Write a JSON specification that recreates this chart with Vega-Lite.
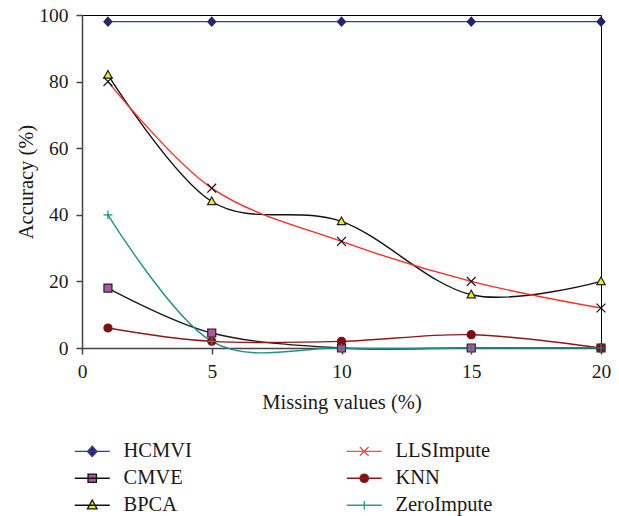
{
  "$schema": "https://vega.github.io/schema/vega-lite/v6.json",
  "width": 519,
  "height": 333,
  "autosize": "none",
  "padding": {"left": 82, "top": 15, "right": 18, "bottom": 168},
  "config": {
    "font": "Liberation Serif",
    "view": {"stroke": "#000", "strokeWidth": 1},
    "axis": {
      "labelFont": "Liberation Serif", "titleFont": "Liberation Serif",
      "labelFontSize": 19.5, "titleFontSize": 20.5, "titleFontWeight": "normal",
      "labelColor": "#1a1a1a", "titleColor": "#1a1a1a",
      "domainColor": "#444", "domainWidth": 1.5,
      "tickColor": "#444", "tickWidth": 1.5, "tickSize": 6, "grid": false,
      "labelFlush": false
    },
    "legend": {
      "labelFont": "Liberation Serif", "labelFontSize": 20.5, "labelColor": "#1a1a1a"
    }
  },
  "data": {
    "values": [
      {"series": "HCMVI", "x": 1, "y": 98}, {"series": "HCMVI", "x": 5, "y": 98}, {"series": "HCMVI", "x": 10, "y": 98}, {"series": "HCMVI", "x": 15, "y": 98}, {"series": "HCMVI", "x": 20, "y": 98},
      {"series": "CMVE", "x": 1, "y": 18}, {"series": "CMVE", "x": 5, "y": 4.5}, {"series": "CMVE", "x": 10, "y": 0}, {"series": "CMVE", "x": 15, "y": 0}, {"series": "CMVE", "x": 20, "y": 0},
      {"series": "BPCA", "x": 1, "y": 82}, {"series": "BPCA", "x": 5, "y": 44}, {"series": "BPCA", "x": 10, "y": 38}, {"series": "BPCA", "x": 15, "y": 16}, {"series": "BPCA", "x": 20, "y": 20},
      {"series": "LLSImpute", "x": 1, "y": 80}, {"series": "LLSImpute", "x": 5, "y": 48}, {"series": "LLSImpute", "x": 10, "y": 32}, {"series": "LLSImpute", "x": 15, "y": 20}, {"series": "LLSImpute", "x": 20, "y": 12},
      {"series": "KNN", "x": 1, "y": 6}, {"series": "KNN", "x": 5, "y": 2}, {"series": "KNN", "x": 10, "y": 2}, {"series": "KNN", "x": 15, "y": 4}, {"series": "KNN", "x": 20, "y": 0},
      {"series": "ZeroImpute", "x": 1, "y": 40}, {"series": "ZeroImpute", "x": 5, "y": 2}, {"series": "ZeroImpute", "x": 10, "y": 0}, {"series": "ZeroImpute", "x": 15, "y": 0}, {"series": "ZeroImpute", "x": 20, "y": 0}
    ]
  },
  "layer": [
    {
      "mark": {"type": "line", "interpolate": "cardinal", "strokeWidth": 1.4},
      "encoding": {
        "x": {"field": "x", "type": "quantitative", "scale": {"domain": [0, 20], "nice": false},
              "axis": {"values": [0, 5, 10, 15, 20], "title": "Missing values (%)", "labelPadding": 8, "titlePadding": 12}},
        "y": {"field": "y", "type": "quantitative", "scale": {"domain": [0, 100], "nice": false},
              "axis": {"values": [0, 20, 40, 60, 80, 100], "title": "Accuracy (%)", "labelPadding": 8, "titlePadding": 2}},
        "stroke": {"field": "series", "type": "nominal", "legend": null,
                   "scale": {"domain": ["HCMVI", "LLSImpute", "CMVE", "KNN", "BPCA", "ZeroImpute"],
                             "range": ["#3a3a8c", "#ff2a2a", "#1a1a1a", "#8b1a1a", "#111111", "#1f9090"]}}
      }
    },
    {
      "mark": {"type": "point", "size": 64, "strokeWidth": 1.2, "opacity": 1},
      "encoding": {
        "x": {"field": "x", "type": "quantitative"},
        "y": {"field": "y", "type": "quantitative"},
        "shape": {"field": "series", "type": "nominal", "legend": null,
                  "scale": {"domain": ["HCMVI", "LLSImpute", "CMVE", "KNN", "BPCA", "ZeroImpute"],
                            "range": ["M0,-1.1L1,0L0,1.1L-1,0Z", "M-1.1,-1.1L1.1,1.1M-1.1,1.1L1.1,-1.1", "M-1,-1L1,-1L1,1L-1,1Z", "circle", "M0,-1.1L1.05,0.8L-1.05,0.8Z", "M-1.1,0L1.1,0M0,-1.1L0,1.1"]}},
        "fill": {"field": "series", "type": "nominal", "legend": null,
                 "scale": {"domain": ["HCMVI", "LLSImpute", "CMVE", "KNN", "BPCA", "ZeroImpute"],
                           "range": ["#23236e", "#000000", "#b455a0", "#7d1010", "#f2ee1a", "#1a8a8a"]}},
        "stroke": {"field": "series", "type": "nominal", "legend": null,
                   "scale": {"domain": ["HCMVI", "LLSImpute", "CMVE", "KNN", "BPCA", "ZeroImpute"],
                             "range": ["#23236e", "#111111", "#222222", "#7d1010", "#222222", "#1a8a8a"]}}
      }
    },
    {
      "data": {"values": []},
      "mark": {"type": "point", "opacity": 1},
      "encoding": {
        "shape": {"field": "series", "type": "nominal",
                  "scale": {"domain": ["HCMVI", "LLSImpute", "CMVE", "KNN", "BPCA", "ZeroImpute"],
                            "range": ["M-2,0L2,0M0,-0.6L0.55,0L0,0.6L-0.55,0Z", "M-2,0L2,0M-0.5,-0.5L0.5,0.5M-0.5,0.5L0.5,-0.5", "M-2,0L2,0M-0.48,-0.48L0.48,-0.48L0.48,0.48L-0.48,0.48Z", "M-2,0L2,0M-0.48,0A0.48,0.48 0 1 0 0.48,0A0.48,0.48 0 1 0 -0.48,0Z", "M-2,0L2,0M0,-0.6L0.55,0.42L-0.55,0.42Z", "M-2,0L2,0M-0.5,0L0.5,0M0,-0.5L0,0.5"]},
                  "legend": {"title": null, "orient": "bottom", "direction": "horizontal", "columns": 2, "symbolSize": 306, "symbolStrokeWidth": 1.3, "symbolOpacity": 1, "labelOffset": 21, "columnPadding": 152, "rowPadding": 6, "offset": 28}},
        "fill": {"field": "series", "type": "nominal",
                 "scale": {"domain": ["HCMVI", "LLSImpute", "CMVE", "KNN", "BPCA", "ZeroImpute"],
                           "range": ["#23236e", "#000000", "#b455a0", "#7d1010", "#f2ee1a", "#1a8a8a"]},
                 "legend": {"title": null, "orient": "bottom", "direction": "horizontal", "columns": 2, "symbolSize": 306, "symbolStrokeWidth": 1.3, "symbolOpacity": 1, "labelOffset": 21, "columnPadding": 152, "rowPadding": 6, "offset": 28}},
        "stroke": {"field": "series", "type": "nominal",
                   "scale": {"domain": ["HCMVI", "LLSImpute", "CMVE", "KNN", "BPCA", "ZeroImpute"],
                             "range": ["#3a3a8c", "#ff4a4a", "#111111", "#8b1a1a", "#111111", "#2a9a9a"]},
                   "legend": {"title": null, "orient": "bottom", "direction": "horizontal", "columns": 2, "symbolSize": 306, "symbolStrokeWidth": 1.3, "symbolOpacity": 1, "labelOffset": 21, "columnPadding": 152, "rowPadding": 6, "offset": 28}}
      }
    }
  ],
  "resolve": {"scale": {"shape": "independent", "fill": "independent", "stroke": "independent"}}
}
